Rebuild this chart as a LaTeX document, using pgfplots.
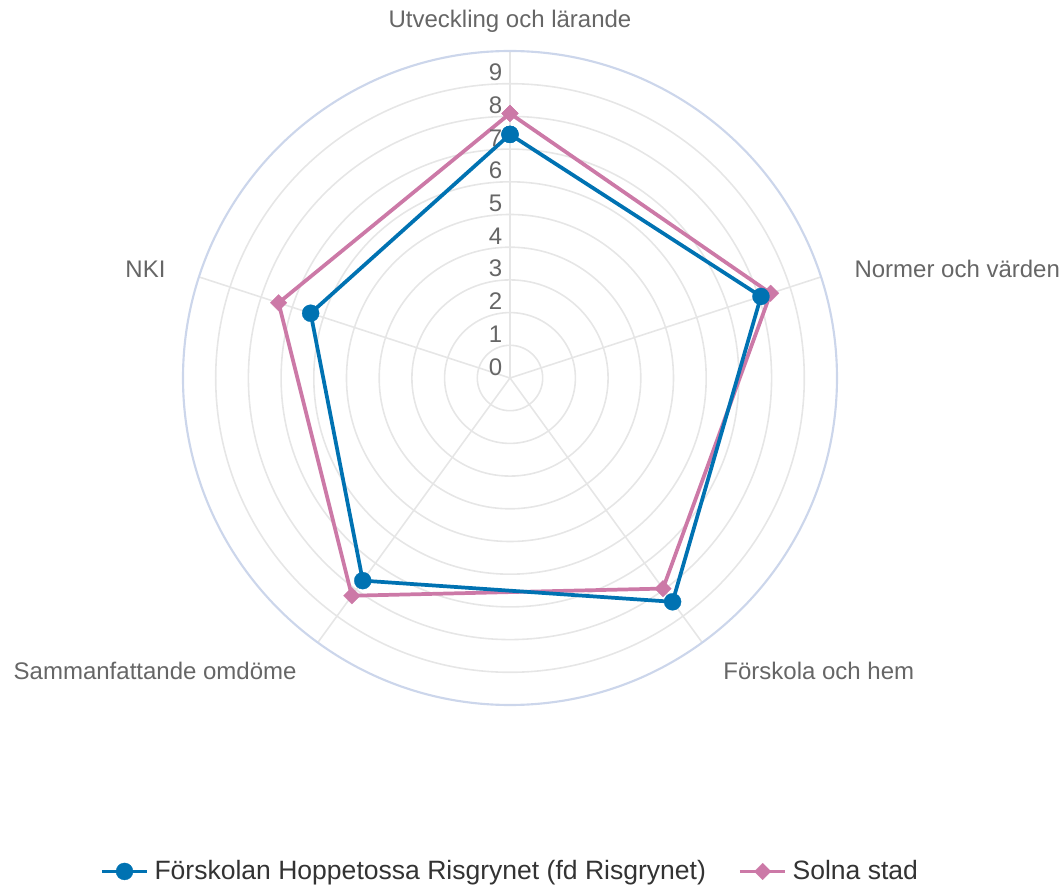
\documentclass[border=0pt]{standalone}
\usepackage{fontspec}
\setmainfont{Liberation Sans}
\usepackage{pgfplots}
\pgfplotsset{compat=1.18}
\usepgfplotslibrary{polar}
\definecolor{sblue}{HTML}{0072B2}
\definecolor{spink}{HTML}{CC79A7}
\definecolor{gridc}{HTML}{E6E6E6}
\definecolor{outerc}{HTML}{CCD6EB}
\definecolor{lab}{HTML}{666666}
\definecolor{leg}{HTML}{333333}
\begin{document}
\begin{tikzpicture}
\path[use as bounding box] (0,0) rectangle (398.625pt,332.25pt);
\begin{polaraxis}[
  at={(191.25pt,190.5pt)}, anchor=center,
  scale only axis, width=245.25pt, height=245.25pt,
  xmin=0, xmax=360, ymin=0, ymax=10,
  xtick={18,90,162,234,306},
  ytick={1,2,...,9},
  xticklabels={}, yticklabels={},
  major tick length=0pt,
  grid=major,
  major grid style={draw=gridc, line width=0.6pt},
  x axis line style={draw=outerc, line width=0.8pt},
  y axis line style={draw=none},
  clip=false,
  legend columns=2,
  legend style={at={(0.5025,-0.2545)}, anchor=center, draw=none, fill=none,
    font=\fontsize{9.95}{12}\selectfont, text=leg,
    /tikz/every even column/.append style={column sep=10pt}},
]
\addlegendimage{sblue, line width=1.4pt, mark=*, mark size=3.2pt, mark options={line width=0.1pt}}
\addlegendentry{Förskolan Hoppetossa Risgrynet (fd Risgrynet)}
\addlegendimage{spink, line width=1.4pt, mark=square*, mark size=2.2pt, mark options={rotate=45, line width=0.1pt}}
\addlegendentry{Solna stad}
\addplot[spink, line width=1.4pt, mark=square*, mark size=2.2pt, mark options={rotate=45, line width=0.1pt}, forget plot]
  coordinates {(90,8.09) (18,8.38) (-54,7.96) (-126,8.23) (162,7.44) (90,8.09)};
\addplot[sblue, line width=1.4pt, mark=*, mark size=3.2pt, mark options={line width=0.1pt}, forget plot]
  coordinates {(90,7.45) (18,8.07) (-54,8.46) (-126,7.66) (162,6.41) (90,7.45)};
\end{polaraxis}
\begin{scope}[every node/.style={inner sep=0pt, text=lab, font=\fontsize{9}{11}\selectfont}]
\node[anchor=base] at (191.25pt,321.75pt) {Utveckling och lärande};
\node[anchor=base west] at (320.25pt,228.0pt) {Normer och värden};
\node[anchor=base west] at (271.1pt,77.3pt) {Förskola och hem};
\node[anchor=base east] at (111.4pt,77.3pt) {Sammanfattande omdöme};
\node[anchor=base east] at (62.25pt,228.0pt) {NKI};
\foreach \k in {0,...,9} {
  \node[anchor=base east] at (188.5pt, {191.6pt+\k*12.2625pt}) {\k};
}
\end{scope}
\end{tikzpicture}
\end{document}
